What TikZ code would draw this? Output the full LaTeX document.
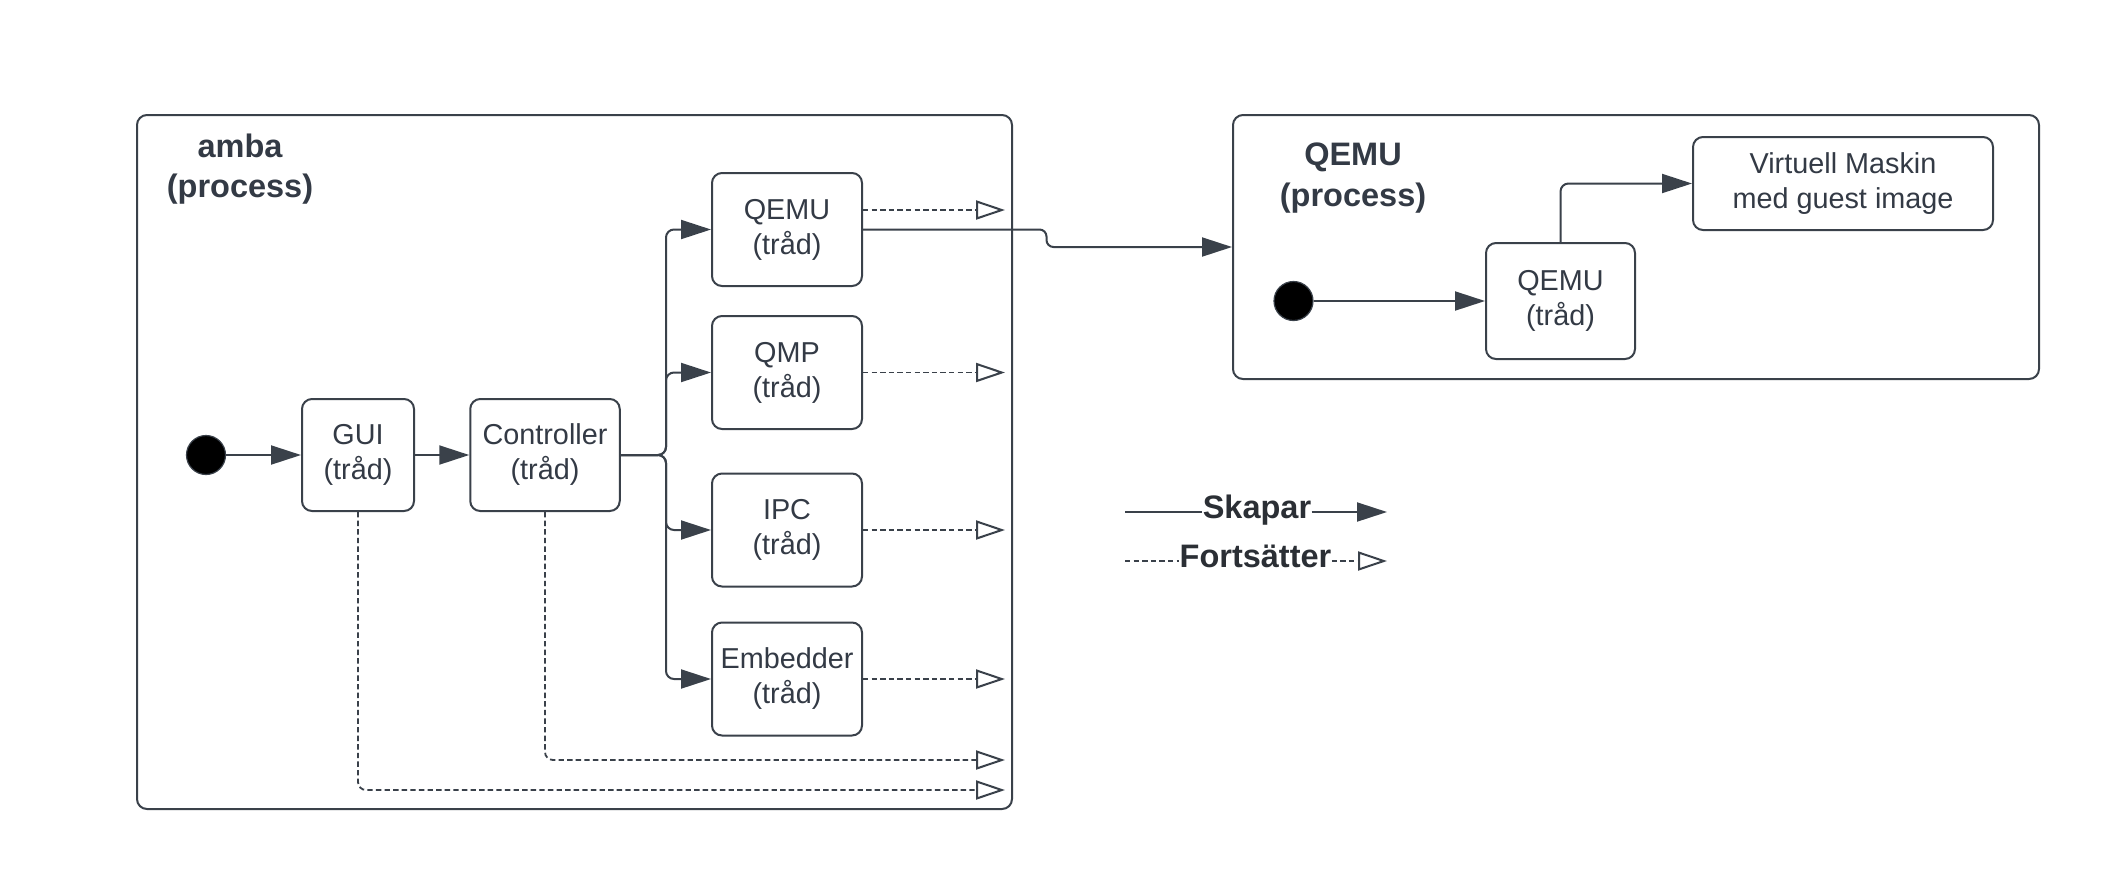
\documentclass[tikz,border=0pt]{standalone}
\usepackage{fontspec}
\setmainfont{Liberation Sans}
\usetikzlibrary{arrows.meta}
\definecolor{ink}{HTML}{3A414A}
\definecolor{txt}{HTML}{333A45}
\definecolor{legendink}{HTML}{2B2F35}
\begin{document}
\begin{tikzpicture}[x=0.5pt,y=-0.5pt,
  box/.style={draw=ink, line width=1pt, rounded corners=5pt, align=center, inner sep=0pt, text=txt, font=\fontsize{14.4pt}{17.5pt}\selectfont},
  thread/.style={box, minimum width=75pt, minimum height=56.5pt},
  container/.style={draw=ink, line width=1pt, rounded corners=5pt, inner sep=0pt},
  title/.style={anchor=base, text=txt, inner sep=0pt, font=\fontsize{16.25pt}{20pt}\selectfont\bfseries},
  legendtext/.style={anchor=base, text=legendink, inner sep=0pt, font=\fontsize{16.25pt}{20pt}\selectfont\bfseries},
  startdot/.style={circle, fill=black, draw=ink, line width=0.6pt, minimum size=19.5pt, inner sep=0pt},
  creates/.style={draw=ink, line width=1pt, -{Triangle[length=15pt,width=9.5pt]}},
  dashline/.style={draw=ink, line width=0.9pt, dash pattern=on 2.7pt off 1.6pt},
  continues/.style={dashline, -{Triangle[open,length=14.5pt,width=9.5pt,line width=1pt]}}
]
\fill[white] (0,0) rectangle (2115,885);
\useasboundingbox (0,0) rectangle (2115,885);

% amba process
\node[container, minimum width=437.5pt, minimum height=347pt] (amba) at (574.5,462) {};
\node[title] (ambaT1) at (240,157) {amba};
\node[title] (ambaT2) at (240,197) {(process)};
\node[startdot] (s1) at (206,455) {};
\node[box, minimum width=56pt, minimum height=56pt] (gui) at (358,455) {GUI\\(tråd)};
\node[box, minimum width=74.75pt, minimum height=56pt] (ctrl) at (545,455) {Controller\\(tråd)};
\node[thread] (qa) at (787,229.5) {QEMU\\(tråd)};
\node[thread] (qmp) at (787,372.5) {QMP\\(tråd)};
\node[thread] (ipc) at (787,530) {IPC\\(tråd)};
\node[thread] (emb) at (787,679) {Embedder\\(tråd)};

% QEMU process
\node[container, minimum width=403pt, minimum height=132pt] (qproc) at (1636,247) {};
\node[title] (qT1) at (1353,165) {QEMU};
\node[title] (qT2) at (1353,206) {(process)};
\node[startdot] (s2) at (1293.5,301) {};
\node[box, minimum width=74.5pt, minimum height=58pt] (qb) at (1560.5,301) {QEMU\\(tråd)};
\node[box, minimum width=150pt, minimum height=46.5pt] (vm) at (1843,183.5) {Virtuell Maskin\\med guest image};

% creates connectors
\draw[creates] (s1) -- (gui);
\draw[creates] (gui) -- (ctrl);
\coordinate (br) at (666,455);
\foreach \t in {qa,qmp,ipc,emb}
  \draw[creates, rounded corners=4pt] (ctrl.east) -- (br) |- (\t.west);
\coordinate (jog) at (1046.5,0);
\draw[creates, rounded corners=3.5pt] (qa.east) -- (qa.east -| jog) -- (jog |- qproc.west) -- (qproc.west);
\draw[creates] (s2) -- (qb);
\draw[creates, rounded corners=4pt] (qb.north) |- (vm.west);

% continues connectors
\coordinate (endx) at (1005,0);
\coordinate (qaOut) at (1005,210);
\draw[continues] (qa.east |- qaOut) -- (qaOut);
\draw[continues] (qmp.east) -- (qmp.east -| endx);
\draw[continues] (ipc.east) -- (ipc.east -| endx);
\draw[continues] (emb.east) -- (emb.east -| endx);
\coordinate (ctrlEnd) at (1005,760);
\coordinate (guiEnd) at (1005,790);
\draw[continues, rounded corners=4pt] (ctrl.south) |- (ctrlEnd);
\draw[continues, rounded corners=4pt] (gui.south) |- (guiEnd);

% legend
\node[legendtext] (sk) at (1257,518) {Skapar};
\coordinate (sk0) at (1125,512);
\coordinate (sk1) at (1387,512);
\draw[draw=ink, line width=1pt] (sk0) -- (sk.west |- sk0);
\draw[creates] (sk.east |- sk1) -- (sk1);
\node[legendtext] (ft) at (1255.5,567) {Fortsätter};
\coordinate (ft0) at (1125,561);
\coordinate (ft1) at (1387,561);
\draw[dashline] (ft0) -- (ft.west |- ft0);
\draw[continues] (ft.east |- ft1) -- (ft1);
\end{tikzpicture}
\end{document}
